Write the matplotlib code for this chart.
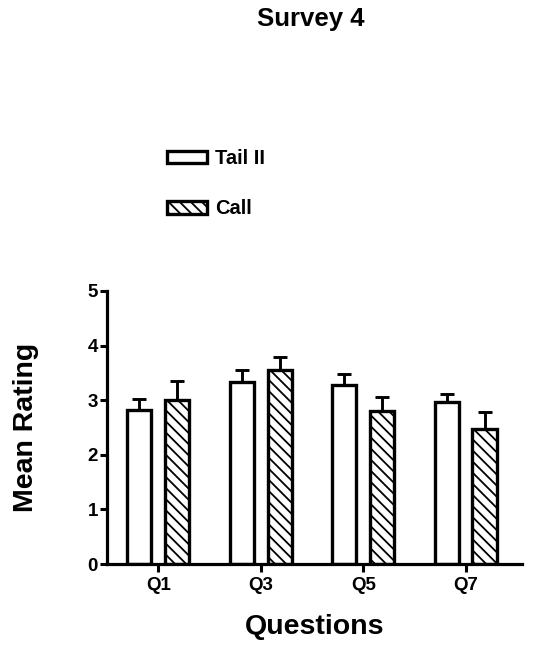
import matplotlib.pyplot as plt
import numpy as np

plt.rcParams['font.family'] = ['Liberation Sans', 'DejaVu Sans']
plt.rcParams['font.weight'] = 'bold'
plt.rcParams['hatch.linewidth'] = 1.3

questions = ["Q1", "Q3", "Q5", "Q7"]
tail_mean = [2.82, 3.33, 3.28, 2.97]
tail_err = [0.21, 0.23, 0.20, 0.15]
call_mean = [3.00, 3.55, 2.80, 2.47]
call_err = [0.35, 0.25, 0.26, 0.31]

fig = plt.figure(figsize=(5.48, 6.51), dpi=100)
ax = fig.add_axes([0.1953, 0.1336, 0.7573, 0.4194])

x = np.arange(len(questions))
w = 0.235
off = 0.184
lw = 2.4

ax.errorbar(x - off, tail_mean, yerr=[np.zeros(4), tail_err], fmt='none',
            ecolor='black', elinewidth=2.1, capsize=4.7, capthick=2.1, zorder=1)
ax.errorbar(x + off, call_mean, yerr=[np.zeros(4), call_err], fmt='none',
            ecolor='black', elinewidth=2.1, capsize=4.7, capthick=2.1, zorder=1)
ax.bar(x - off, tail_mean, w, color='white', edgecolor='black', linewidth=lw,
       label='Tail II', zorder=2)
ax.bar(x + off, call_mean, w, color='white', edgecolor='black', linewidth=lw,
       hatch='\\\\\\', label='Call', zorder=2)

ax.set_xlim(-0.50, 3.55)
ax.set_ylim(0, 5)
ax.set_xticks(x)
ax.set_xticklabels(questions, fontsize=13.5, fontweight='bold')
ax.set_yticks(range(6))
ax.set_yticklabels([str(i) for i in range(6)], fontsize=13.5, fontweight='bold')
ax.tick_params(width=2.2, length=5, pad=1.5)
ax.tick_params(axis='x', length=5.5, pad=3.5)
for s in ['top', 'right']:
    ax.spines[s].set_visible(False)
for s in ['left', 'bottom']:
    ax.spines[s].set_linewidth(2.3)

ax.set_xlabel("Questions", fontsize=20.5, fontweight='bold', labelpad=15)
ax.set_ylabel("Mean Rating", fontsize=20.5, fontweight='bold')
ax.yaxis.set_label_coords(-0.165, 0.5)

fig.text(0.567, 1 - 19 / 651, "Survey 4", fontsize=18.5, fontweight='bold',
         ha='center', va='center')

fig.legend(loc='upper left', bbox_to_anchor=(0.305, 0.771), frameon=False,
           fontsize=14.5, handlelength=2.0, handleheight=0.6,
           labelspacing=1.55, handletextpad=0.4, borderpad=0, borderaxespad=0)

fig.savefig("out.png", dpi=100)
